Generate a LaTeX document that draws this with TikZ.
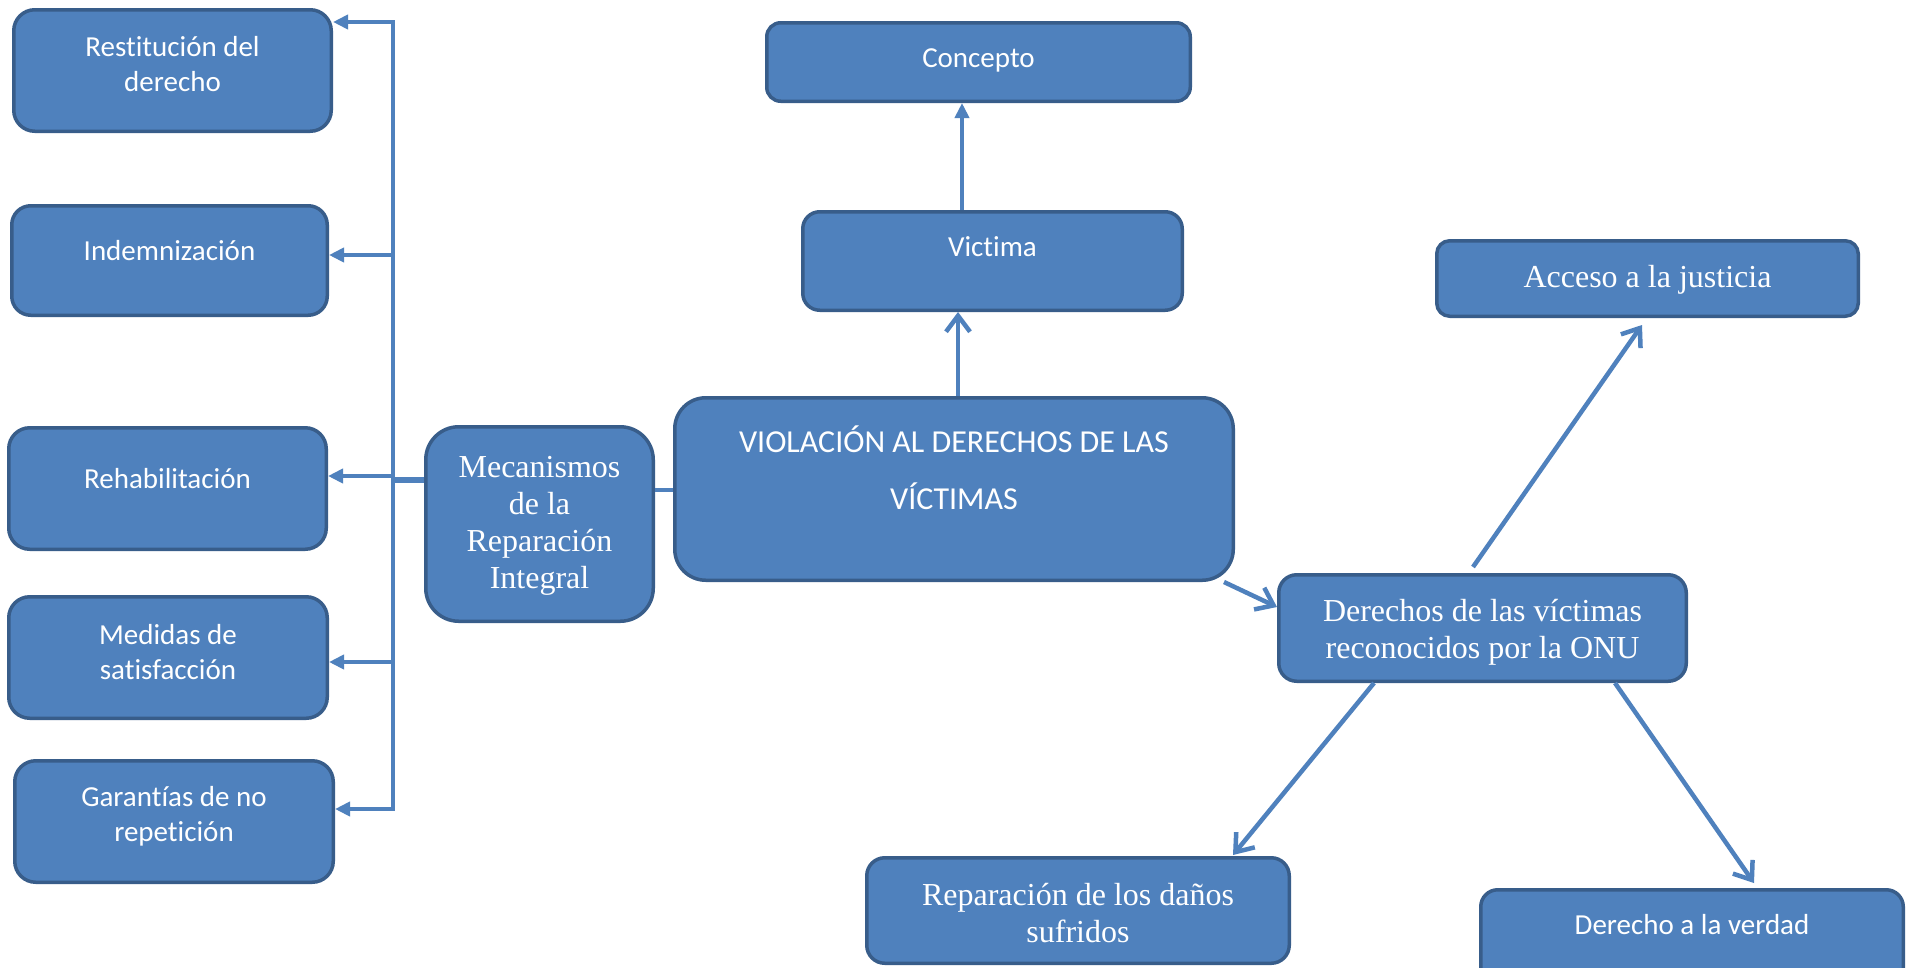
\documentclass[tikz,border=0pt]{standalone}
\usepackage{fontspec}
\setmainfont{Liberation Serif}
\newfontfamily\calfont[Ligatures=NoCommon]{Carlito}
\usetikzlibrary{arrows.meta,calc}
\definecolor{boxfill}{HTML}{4F81BD}
\definecolor{boxline}{HTML}{385D8A}
\definecolor{connc}{HTML}{4F81BD}
\begin{document}
\begin{tikzpicture}[x=1pt,y=-1pt,
  box/.style={draw=boxline, line width=3.5pt, fill=boxfill, inner sep=0pt},
  cal/.style={text=white, font=\calfont\fontsize{29}{35}\selectfont, align=center},
  tim/.style={text=white, font=\fontsize{32}{37}\selectfont, align=center},
  conn/.style={draw=connc, line width=4.5pt},
  fa/.style={conn, -{Triangle[length=15pt,width=14pt]}},
  oa/.style={conn, -{Straight Barb[length=16pt,width=24pt]}},
]
\useasboundingbox (0,0) rectangle (1914,967);
\fill[white] (0,0) rectangle (1914,967);

% left column
\node[box, rounded corners=21pt, minimum width=317.5pt, minimum height=121.5pt,
  label={[cal,yshift=6pt]center:{Restitución del\\derecho}}] (rest) at (172.5,70.5) {};
\node[box, rounded corners=19pt, minimum width=315.5pt, minimum height=109.5pt,
  label={[cal,yshift=9.5pt]center:{Indemnización}}] (indem) at (169.5,260.5) {};
\node[box, rounded corners=21pt, minimum width=317.5pt, minimum height=121.5pt,
  label={[cal,yshift=10pt]center:{Rehabilitación}}] (rehab) at (167.5,488.5) {};
\node[box, rounded corners=21pt, minimum width=318.5pt, minimum height=121.5pt,
  label={[cal,yshift=5.5pt]center:{Medidas de\\satisfacción}}] (medidas) at (168,657.5) {};
\node[box, rounded corners=21pt, minimum width=318.5pt, minimum height=121.5pt,
  label={[cal,yshift=5.5pt]center:{Garantías de no\\repetición}}] (garant) at (174,821.5) {};

% middle
\node[box, rounded corners=33pt, minimum width=227.5pt, minimum height=194.5pt,
  label={[tim,yshift=-1.5pt]center:{Mecanismos\\de la\\Reparación\\Integral}}] (mec) at (539.5,524) {};
\node[box, rounded corners=14pt, minimum width=423.5pt, minimum height=78.5pt,
  label={[cal,yshift=2pt]center:{Concepto}}] (concepto) at (978.5,62) {};
\node[box, rounded corners=17pt, minimum width=379.5pt, minimum height=98.5pt,
  label={[cal,yshift=14pt]center:{Victima}}] (victima) at (992.5,261) {};
\node[box, rounded corners=31pt, minimum width=558.5pt, minimum height=182.5pt,
  label={[cal,font=\calfont\fontsize{32}{57}\selectfont,yshift=21pt]center:{VIOLACIÓN AL DERECHOS DE LAS\\VÍCTIMAS}}] (viol) at (954,489) {};

% right
\node[box, rounded corners=13pt, minimum width=421.5pt, minimum height=75.5pt,
  label={[tim,yshift=-1pt]center:{Acceso a la justicia}}] (acceso) at (1647.5,278.5) {};
\node[box, rounded corners=18pt, minimum width=407.5pt, minimum height=106.5pt,
  label={[tim,yshift=-4.5pt]center:{Derechos de las víctimas\\reconocidos por la ONU}}] (derechos) at (1482.5,628) {};
\node[box, rounded corners=18pt, minimum width=422.5pt, minimum height=105.5pt,
  label={[tim,yshift=-3pt]center:{Reparación de los daños\\sufridos}}] (repar) at (1078,910.5) {};
\node[box, rounded corners=17pt, minimum width=422.5pt, minimum height=98.5pt,
  label={[cal,yshift=14pt]center:{Derecho a la verdad}}] (verdad) at (1692,939) {};

% trunk on the left
\coordinate (t1) at (393,22);
\coordinate (t2) at (393,255);
\coordinate (t3) at (393,476);
\coordinate (t4) at (393,662);
\coordinate (t5) at (393,809);
\coordinate (t6) at (393,480);
\draw[conn, line cap=rect] (t1) -- (t5);
\draw[fa] (t1) -- (rest.east |- t1);
\draw[fa] (t2) -- (indem.east |- t2);
\draw[fa] (t3) -- (rehab.east |- t3);
\draw[fa] (t4) -- (medidas.east |- t4);
\draw[fa] (t5) -- (garant.east |- t5);
\draw[conn, line width=6pt] (mec.west |- t6) -- (t6);

\coordinate (mv) at (664,490);
\draw[conn] (mec.east |- mv) -- (viol.west |- mv);

\coordinate (c1) at (958,0);
\draw[oa] (viol.north -| c1) -- (victima.south -| c1);
\coordinate (c2) at (962,0);
\draw[fa] (victima.north -| c2) -- (concepto.south -| c2);

\draw[oa] ($(viol.south east)+(-11,0)$) -- ($(derechos.west)+(0,-21)$);
\draw[oa] ($(derechos.north)+(-9.5,-6)$) -- ($(acceso.south)+(-5.5,7)$);
\draw[oa] ($(derechos.south)+(-108.5,0)$) -- ($(repar.north)+(155,-1)$);
\draw[oa] ($(derechos.south)+(132.5,0)$) -- ($(verdad.north)+(62,-5)$);
\end{tikzpicture}
\end{document}
